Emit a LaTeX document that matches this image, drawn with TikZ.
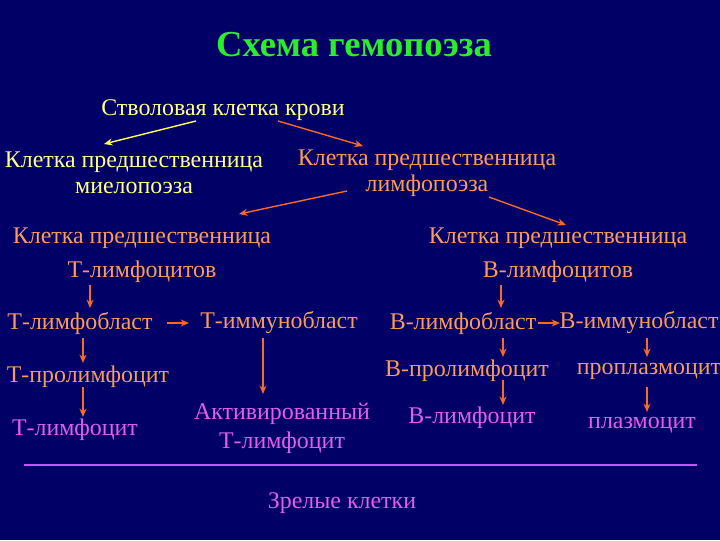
\documentclass[tikz,border=0pt]{standalone}
\usepackage{fontspec}
\setmainfont{Liberation Serif}
\usepackage{tikz}
\usetikzlibrary{arrows.meta,calc}
\definecolor{bg}{RGB}{0,0,102}
\definecolor{titlegreen}{RGB}{45,235,45}
\definecolor{paleyellow}{RGB}{255,255,135}
\definecolor{yarrow}{RGB}{255,255,90}
\definecolor{lymtext}{RGB}{250,155,90}
\definecolor{orarrow}{RGB}{250,105,40}
\definecolor{mattext}{RGB}{225,95,235}
\definecolor{matline}{RGB}{195,85,245}

\begin{document}
\begin{tikzpicture}[x=0.025cm, y=-0.025cm,
	cell/.style={inner sep=0pt, align=center, font=\fontsize{17}{18.5}\selectfont},
	myel/.style={cell, paleyellow},
	lym/.style={cell, lymtext},
	mat/.style={cell, mattext},
	arr/.style={-{Stealth[length=6pt,width=5pt]}, line width=1pt, orarrow},
	arry/.style={arr, yarrow}]
	\useasboundingbox[fill=bg] (0,0) rectangle (720,540);
	\clip (0,0) rectangle (720,540);

	\node[cell, titlegreen, font=\fontsize{26}{30}\selectfont\bfseries] (title) at (354,45) {Схема гемопоэза};

	\node[myel] (stem) at (223,110) {Стволовая клетка крови};
	\node[myel] (myelo) at (134,173) {Клетка предшественница\\миелопоэза};
	\node[lym] (lympho) at (427,173) {Клетка предшественница\\лимфопоэза};

	\node[lym, font=\fontsize{17}{24}\selectfont] (tprec) at (142,255) {Клетка предшественница\\Т-лимфоцитов};
	\node[lym, font=\fontsize{17}{24}\selectfont] (bprec) at (558,255) {Клетка предшественница\\В-лимфоцитов};

	\node[lym] (tblast) at (80,323) {Т-лимфобласт};
	\node[lym] (timmun) at (279,323) {Т-иммунобласт};
	\node[lym] (bblast) at (463,323) {В-лимфобласт};
	\node[lym] (bimmun) at (639,323) {В-иммунобласт};

	\node[lym] (tprol) at (88,377) {Т-пролимфоцит};
	\node[lym] (bprol) at (467,371) {В-пролимфоцит};
	\node[lym] (pplasma) at (649,371) {проплазмоцит};

	\node[mat] (tlym) at (75,430) {Т-лимфоцит};
	\node[mat, font=\fontsize{17}{20.5}\selectfont] (tact) at (282,428) {Активированный\\Т-лимфоцит};
	\node[mat] (blym) at (472,418) {В-лимфоцит};
	\node[mat] (plasma) at (642,425) {плазмоцит};

	\draw[matline, line width=1pt] (24,465) -- (697,465);
	\node[mat] (mature) at (342,503) {Зрелые клетки};

	% stem cell branches
	\draw[arry] ($(stem)+(-27,11)$) -- ($(myelo)+(-30,-29)$);
	\draw[arr] ($(stem)+(55,11)$) -- ($(lympho)+(-64,-27)$);
	\draw[arr] ($(lympho)+(-80,18)$) -- ($(tprec)+(97,-41)$);
	\draw[arr] ($(lympho)+(62,24)$) -- ($(bprec)+(8,-30)$);

	% T line
	\draw[arr] ($(tprec)+(-52,30)$) -- ($(tblast)+(10,-15)$);
	\draw[arr] ($(tblast)+(87,0)$) -- ($(timmun)+(-90,0)$);
	\draw[arr] ($(tblast)+(3,15)$) -- ($(tprol)+(-5,-14)$);
	\draw[arr] ($(tprol)+(-5,10)$) -- ($(tlym)+(8,-13)$);
	\draw[arr] ($(timmun)+(-16,15)$) -- ($(tact)+(-19,-34)$);

	% B line
	\draw[arr] ($(bprec)+(-57,30)$) -- ($(bblast)+(38,-15)$);
	\draw[arr] ($(bblast)+(75,0)$) -- ($(bimmun)+(-79,0)$);
	\draw[arr] ($(bblast)+(40,15)$) -- ($(bprol)+(36,-14)$);
	\draw[arr] ($(bprol)+(36,9)$) -- ($(blym)+(31,-13)$);
	\draw[arr] ($(bimmun)+(8,15)$) -- ($(pplasma)+(-2,-14)$);
	\draw[arr] ($(pplasma)+(-2,16)$) -- ($(plasma)+(5,-13)$);
\end{tikzpicture}
\end{document}
